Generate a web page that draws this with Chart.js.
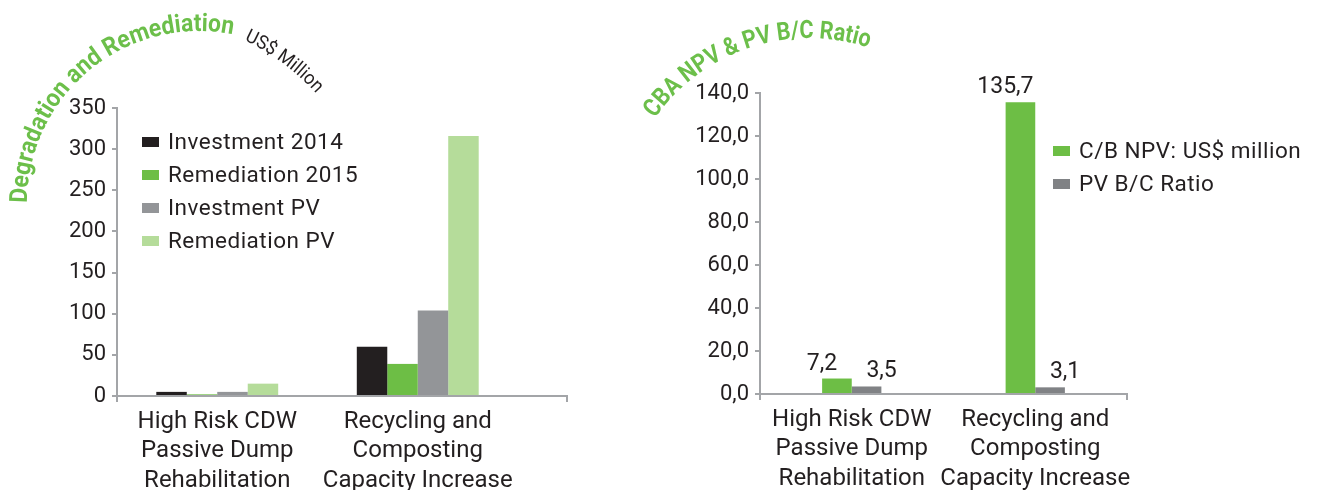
<!DOCTYPE html>
<html><head><meta charset="utf-8">
<script src="https://cdn.jsdelivr.net/npm/chart.js@4.4.0/dist/chart.umd.min.js"></script>
<style>
html,body{margin:0;padding:0;background:#fff;width:1320px;height:490px;overflow:hidden}
#c1{position:absolute;left:0;top:0}
#c2{position:absolute;left:620px;top:0}
</style></head><body>
<canvas id="c1" width="620" height="490"></canvas>
<canvas id="c2" width="700" height="490"></canvas>
<script>
// ---------- data ----------
const categories = [["High Risk CDW","Passive Dump","Rehabilitation"],["Recycling and","Composting","Capacity Increase"]];
const seriesLeft = ["Investment 2014","Remediation 2015","Investment PV","Remediation PV"];
const investment2014 = [5, 60];
const remediation2015 = [2, 39];
const investmentPV = [5, 104];
const remediationPV = [15, 316];
const leftTicks = [0, 50, 100, 150, 200, 250, 300, 350];

const seriesRight = ["C/B NPV: US$ million","PV B/C Ratio"];
const cbNPV = [7.2, 135.7];
const pvBCRatio = [3.5, 3.1];
const rightTicks = [0, 20, 40, 60, 80, 100, 120, 140];

const titleLeft = "Degradation and Remediation";
const unitLeft = "US$ Million";
const titleRight = "CBA NPV & PV B/C Ratio";

// ---------- style ----------
const FONT = "Roboto, 'Liberation Sans', sans-serif";
const TXT = "#231f20";
const AXIS = "#a3a5a8";
const GREEN_T = "#6cbf4a";
const C_BLACK = "#231f20", C_GREEN = "#6dbe45", C_GRAY = "#939598", C_LGREEN = "#b5dc9a", C_DGRAY = "#808285";
const comma = v => Number(v).toFixed(1).replace('.', ',');

function arcText(ctx, text, cx, cy, r, a0, a1, weight, color, size){
  ctx.save();
  ctx.fillStyle = color; ctx.textBaseline = 'alphabetic'; ctx.textAlign = 'left';
  const chars = [...text];
  ctx.font = weight + " " + size + "px " + FONT;
  const w = chars.map(c => ctx.measureText(c).width);
  const arcLen = (a1 - a0) * r;
  const total = w.reduce((a,b)=>a+b,0);
  const h = Math.min(1, arcLen / total);
  const extra = (arcLen - total*h) / Math.max(1, chars.length - 1);
  let s = 0;
  chars.forEach((c,i)=>{
    const cw = w[i]*h;
    const th = a0 + (s + cw/2) / r;
    ctx.save();
    ctx.translate(cx + r*Math.cos(th), cy + r*Math.sin(th));
    ctx.rotate(th + Math.PI/2);
    ctx.scale(h, 1);
    ctx.fillText(c, -w[i]/2, 0);
    ctx.restore();
    s += cw + extra;
  });
  ctx.restore();
}

const titlePlugin = {
  id: 'arcTitles',
  afterDraw(chart, args, opts){
    (opts.items || []).forEach(it => arcText(chart.ctx, it.text, it.cx, it.cy, it.r, it.a0, it.a1, it.weight, it.color, it.size));
  }
};

const boxLegend = {
  id: 'boxLegend',
  afterDraw(chart, args, o){
    const ctx = chart.ctx; ctx.save();
    ctx.font = "22.5px " + FONT; ctx.textBaseline = 'middle'; ctx.textAlign = 'left';
    if ('letterSpacing' in ctx) ctx.letterSpacing = '0.5px';
    chart.data.datasets.forEach((ds,i)=>{
      const y = o.y + i*o.dy;
      ctx.fillStyle = ds.backgroundColor;
      ctx.fillRect(o.x, y - 5, 17, 10);
      ctx.fillStyle = TXT;
      ctx.fillText(ds.label, o.x + 26, y + 1);
    });
    ctx.restore();
  }
};

const valueLabels = {
  id: 'valueLabels',
  afterDatasetsDraw(chart, args, o){
    if (!o.show) return;
    const ctx = chart.ctx; ctx.save();
    ctx.font = "23px " + FONT; ctx.fillStyle = TXT; ctx.textAlign = 'center'; ctx.textBaseline = 'alphabetic';
    chart.data.datasets.forEach((ds,di)=>{
      chart.getDatasetMeta(di).data.forEach((el,i)=>{
        ctx.fillText(comma(ds.data[i]), el.x + (o.dx[di] || 0), el.y - 9);
      });
    });
    ctx.restore();
  }
};

const axisExtend = {
  id: 'axisExtend',
  afterDraw(chart, args, o){
    if (!o.ext) return;
    const ctx = chart.ctx, a = chart.chartArea;
    ctx.save(); ctx.strokeStyle = AXIS; ctx.lineWidth = 2;
    ctx.beginPath();
    ctx.moveTo(a.right - 1, a.bottom); ctx.lineTo(a.right + o.ext, a.bottom);
    ctx.moveTo(a.right + o.ext, a.bottom - 1); ctx.lineTo(a.right + o.ext, a.bottom + 6);
    ctx.stroke(); ctx.restore();
  }
};

function baseOptions(ticksArr, fmt, yWidth, xHeight, pad, catPct, showTick){
  return {
    responsive: false, animation: false,
    layout: { padding: pad },
    plugins: { legend: { display: false }, tooltip: { enabled: false } },
    scales: {
      x: {
        afterFit: s => { s.height = xHeight; },
        grid: { offset: true, drawOnChartArea: false, drawTicks: true, tickLength: 6, lineWidth: 2,
                color: c => showTick(c.index) ? AXIS : 'rgba(0,0,0,0)' },
        border: { display: true, color: AXIS, width: 2 },
        ticks: { color: TXT, font: { family: FONT, size: 24, lineHeight: 1.23 }, padding: 5, maxRotation: 0, autoSkip: false }
      },
      y: {
        min: ticksArr[0], max: ticksArr[ticksArr.length-1],
        afterFit: s => { s.width = yWidth; },
        afterBuildTicks: s => { s.ticks = ticksArr.map(v => ({ value: v })); },
        grid: { drawOnChartArea: false, drawTicks: true, tickLength: 5, lineWidth: 2, color: AXIS },
        border: { display: true, color: AXIS, width: 2 },
        ticks: { color: TXT, font: { family: FONT, size: 22 }, padding: 6, callback: fmt }
      }
    },
    datasets: { bar: { barPercentage: 1.0, categoryPercentage: catPct } }
  };
}

// ---------- left chart ----------
const optL = baseOptions(leftTicks, v => String(v), 117, 94, { left: 0, top: 108, right: 102, bottom: 0 }, 0.608,
  idx => idx === 0);
optL.plugins.arcTitles = { items: [
  { text: titleLeft, cx: 199, cy: 203, r: 172, a0: Math.PI, a1: 2*Math.PI - 1.372, weight: "bold", color: GREEN_T, size: 25 },
  { text: unitLeft, cx: 149, cy: 244, r: 225, a0: 2*Math.PI - 1.134, a1: 2*Math.PI - 0.733, weight: "normal", color: TXT, size: 19 }
]};
optL.plugins.boxLegend = { x: 142, y: 142, dy: 33 };
optL.plugins.axisExtend = { ext: 49 };
new Chart(document.getElementById('c1'), {
  type: 'bar',
  data: { labels: categories, datasets: [
    { label: seriesLeft[0], data: investment2014, backgroundColor: C_BLACK },
    { label: seriesLeft[1], data: remediation2015, backgroundColor: C_GREEN },
    { label: seriesLeft[2], data: investmentPV, backgroundColor: C_GRAY },
    { label: seriesLeft[3], data: remediationPV, backgroundColor: C_LGREEN }
  ]},
  options: optL,
  plugins: [titlePlugin, boxLegend, axisExtend]
});

// ---------- right chart ----------
const optR = baseOptions(rightTicks, v => comma(v), 140, 96, { left: 0, top: 93, right: 193, bottom: 0 }, 0.323,
  idx => idx !== 1);
optR.plugins.arcTitles = { items: [
  { text: titleRight, cx: 189, cy: 226, r: 188, a0: 3.752, a1: 5.034, weight: "bold", color: GREEN_T, size: 25 }
]};
optR.plugins.boxLegend = { x: 433, y: 151, dy: 33 };
optR.plugins.valueLabels = { show: true, dx: [-15, 15] };
new Chart(document.getElementById('c2'), {
  type: 'bar',
  data: { labels: categories, datasets: [
    { label: seriesRight[0], data: cbNPV, backgroundColor: C_GREEN },
    { label: seriesRight[1], data: pvBCRatio, backgroundColor: C_DGRAY }
  ]},
  options: optR,
  plugins: [titlePlugin, boxLegend, valueLabels]
});
</script>
</body></html>
